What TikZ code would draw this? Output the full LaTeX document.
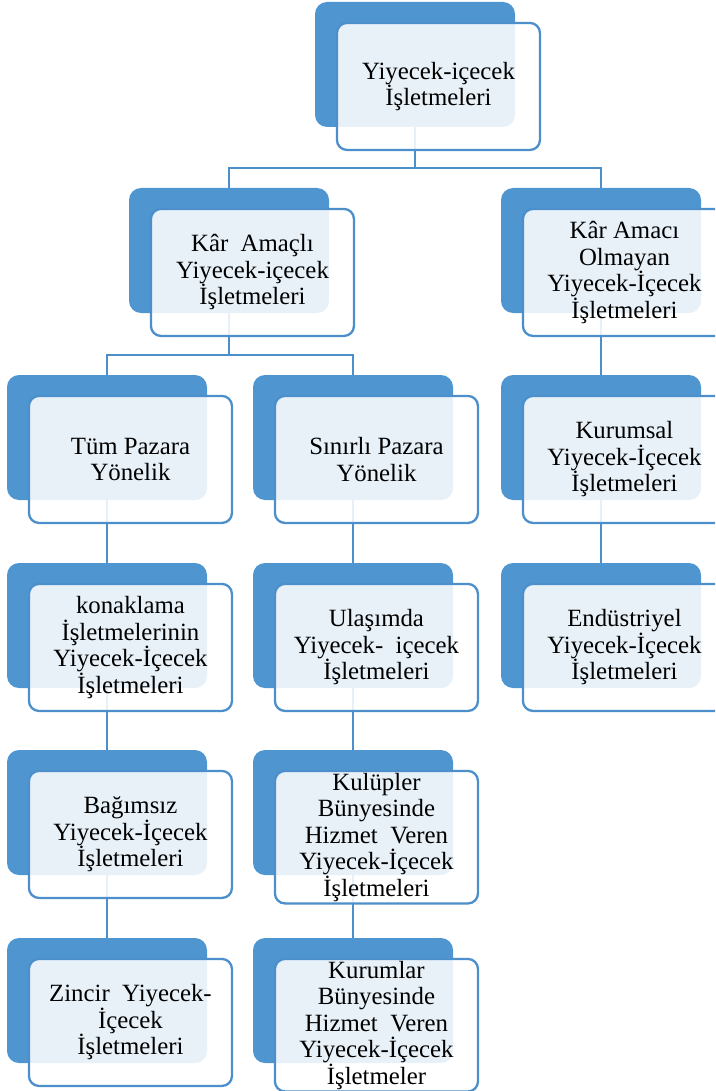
\documentclass[tikz,border=0pt]{standalone}
\usepackage{fontspec}
\setmainfont{Liberation Serif}
\usepackage{xcolor}
\usepackage{tikz}
\usetikzlibrary{positioning}
\definecolor{boxblue}{RGB}{79,149,207}
\definecolor{lineblue}{RGB}{76,143,202}
\tikzset{
  backbox/.style={draw=none, fill=boxblue, rounded corners=12pt, minimum width=200pt, minimum height=125pt, inner sep=0pt},
  frontbox/.style={draw=lineblue, line width=2.3pt, fill=white, fill opacity=0.87, text opacity=1, rounded corners=10pt, minimum width=203pt, minimum height=127pt, inner sep=2pt, align=center, font=\fontsize{24.8}{26.5}\selectfont},
  link/.style={draw=lineblue, line width=2.2pt},
}

\begin{document}
\begin{tikzpicture}[x=1pt,y=1pt]
\clip (0,0) rectangle (715,-1091);
% back boxes
\node[backbox] (top-b) at (415,-64.5) {};
\node[backbox] (kar-b) at (229,-250.5) {};
\node[backbox] (nokar-b) at (601,-250.5) {};
\node[backbox] (tum-b) at (107,-437.5) {};
\node[backbox] (sinirli-b) at (353,-437.5) {};
\node[backbox] (kurumsal-b) at (601,-437.5) {};
\node[backbox] (konak-b) at (107,-625.5) {};
\node[backbox] (ulasim-b) at (353,-625.5) {};
\node[backbox] (endus-b) at (601,-625.5) {};
\node[backbox] (bagimsiz-b) at (107,-812.5) {};
\node[backbox] (kulup-b) at (353,-812.5) {};
\node[backbox] (zincir-b) at (107,-1000.5) {};
\node[backbox] (kurum-b) at (353,-1000.5) {};
% connectors
\draw[link] (top-b.south) -- ++(0,-41) -| (kar-b.north);
\draw[link] (top-b.south) -- ++(0,-41) -| (nokar-b.north);
\draw[link] (kar-b.south) -- ++(0,-42) -| (tum-b.north);
\draw[link] (kar-b.south) -- ++(0,-42) -| (sinirli-b.north);
\draw[link] (nokar-b.south) -- (kurumsal-b.north);
\draw[link] (kurumsal-b.south) -- (endus-b.north);
\draw[link] (tum-b.south) -- (konak-b.north);
\draw[link] (konak-b.south) -- (bagimsiz-b.north);
\draw[link] (bagimsiz-b.south) -- (zincir-b.north);
\draw[link] (sinirli-b.south) -- (ulasim-b.north);
\draw[link] (ulasim-b.south) -- (kulup-b.north);
\draw[link] (kulup-b.south) -- (kurum-b.north);
% front boxes
\node[frontbox, below right=20pt and 21pt of top-b.north west] (top) {Yiyecek-içecek\\İşletmeleri};
\node[frontbox, below right=20pt and 21pt of kar-b.north west] (kar) {Kâr~~Amaçlı\\Yiyecek-içecek\\İşletmeleri};
\node[frontbox, below right=20pt and 21pt of nokar-b.north west] (nokar) {Kâr Amacı\\Olmayan\\Yiyecek-İçecek\\İşletmeleri};
\node[frontbox, below right=20pt and 21pt of tum-b.north west] (tum) {Tüm Pazara\\Yönelik};
\node[frontbox, below right=20pt and 21pt of sinirli-b.north west] (sinirli) {Sınırlı Pazara\\Yönelik};
\node[frontbox, below right=20pt and 21pt of kurumsal-b.north west] (kurumsal) {Kurumsal\\Yiyecek-İçecek\\İşletmeleri};
\node[frontbox, below right=20pt and 21pt of konak-b.north west] (konak) {konaklama\\İşletmelerinin\\Yiyecek-İçecek\\İşletmeleri};
\node[frontbox, below right=20pt and 21pt of ulasim-b.north west] (ulasim) {Ulaşımda\\Yiyecek-~~içecek\\İşletmeleri};
\node[frontbox, below right=20pt and 21pt of endus-b.north west] (endus) {Endüstriyel\\Yiyecek-İçecek\\İşletmeleri};
\node[frontbox, below right=20pt and 21pt of bagimsiz-b.north west] (bagimsiz) {Bağımsız\\Yiyecek-İçecek\\İşletmeleri};
\node[frontbox, below right=20pt and 21pt of kulup-b.north west] (kulup) {Kulüpler\\Bünyesinde\\Hizmet~~Veren\\Yiyecek-İçecek\\İşletmeleri};
\node[frontbox, below right=20pt and 21pt of zincir-b.north west] (zincir) {Zincir~~Yiyecek-\\İçecek\\İşletmeleri};
\node[frontbox, below right=20pt and 21pt of kurum-b.north west] (kurum) {Kurumlar\\Bünyesinde\\Hizmet~~Veren\\Yiyecek-İçecek\\İşletmeler};
\end{tikzpicture}
\end{document}
